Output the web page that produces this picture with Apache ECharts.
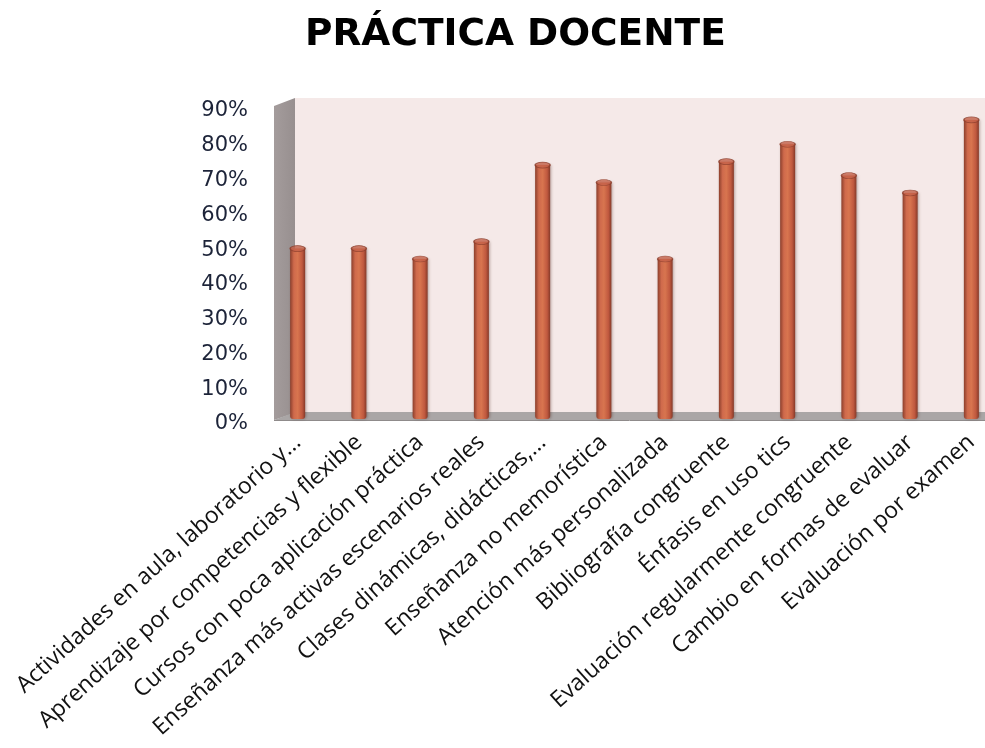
<!DOCTYPE html>
<html>
<head>
<meta charset="utf-8">
<script src="https://cdn.jsdelivr.net/npm/echarts@6/dist/echarts.min.js"></script>
<style>
  html, body { margin: 0; padding: 0; background: #fff; }
  #main { width: 985px; height: 748px; }
</style>
</head>
<body>
<div id="main"></div>
<script>
var categories = [
    'Actividades en aula, laboratorio y...',
    'Aprendizaje por competencias y flexible',
    'Cursos con poca aplicación práctica',
    'Enseñanza más activas escenarios reales',
    'Clases dinámicas, didácticas,...',
    'Enseñanza no memorística',
    'Atención más personalizada',
    'Bibliografía congruente',
    'Énfasis en uso tics',
    'Evaluación regularmente congruente',
    'Cambio en formas de evaluar',
    'Evaluación por examen'
];
var values = [49, 49, 46, 51, 73, 68, 46, 74, 79, 70, 65, 86];
var yTicks = [0, 10, 20, 30, 40, 50, 60, 70, 80, 90];

var myChart = echarts.init(document.getElementById('main'));

var barColor = new echarts.graphic.LinearGradient(0, 0, 1, 0, [
    { offset: 0, color: '#8c3f2c' },
    { offset: 0.25, color: '#cf6a4c' },
    { offset: 0.5, color: '#d8754f' },
    { offset: 0.8, color: '#c0593f' },
    { offset: 1, color: '#863a29' }
]);

var option = {
    backgroundColor: '#ffffff',
    animation: false,
    title: {
        text: 'PRÁCTICA DOCENTE',
        left: 300,
        top: 11,
        textStyle: {
            fontFamily: 'DejaVu Sans',
            fontWeight: 'bold',
            fontSize: 37.5,
            color: '#000'
        }
    },
    graphic: {
        elements: [
            {
                type: 'rect', z: -10, silent: true,
                shape: { x: 295, y: 98, width: 700, height: 315 },
                style: { fill: '#f5e9e8' }
            },
            {
                type: 'polygon', z: -9, silent: true,
                shape: { points: [[274, 106], [295, 98], [295, 413], [274, 420]] },
                style: {
                    fill: new echarts.graphic.LinearGradient(0, 0, 1, 0, [
                        { offset: 0, color: '#a49c9c' },
                        { offset: 1, color: '#978f8f' }
                    ])
                }
            },
            {
                type: 'polygon', z: -8, silent: true,
                shape: { points: [[274, 420], [295, 412], [995, 412], [985, 420]] },
                style: { fill: '#aaa6a6' }
            },
            {
                type: 'line', z: -7, silent: true,
                shape: { x1: 274, y1: 420.5, x2: 985, y2: 420.5 },
                style: { stroke: '#8f8b8b', lineWidth: 1 }
            }
        ]
    },
    grid: {
        left: 267,
        width: 735,
        top: 106,
        bottom: 329,
        outerBoundsMode: 'none'
    },
    xAxis: {
        type: 'category',
        data: categories,
        axisLine: { show: false },
        axisTick: { show: false },
        axisLabel: {
            interval: 0,
            rotate: 42,
            margin: 20,
            fontFamily: 'Open Sans',
            fontSize: 23,
            color: '#111'
        }
    },
    yAxis: {
        type: 'value',
        min: 0,
        max: 90,
        interval: 10,
        splitLine: { show: false },
        axisLine: { show: false },
        axisTick: { show: false },
        axisLabel: {
            margin: 19,
            verticalAlign: 'top',
            lineHeight: 10,
            fontFamily: 'DejaVu Sans',
            fontSize: 21,
            color: '#1c2338',
            formatter: function (v) {
                return yTicks.indexOf(v) >= 0 ? v + '%' : '';
            }
        }
    },
    series: [
        {
            type: 'bar',
            data: values,
            barWidth: 15,
            itemStyle: {
                color: barColor,
                borderRadius: [0, 0, 3, 3],
                shadowColor: 'rgba(60,20,10,0.35)',
                shadowBlur: 3,
                shadowOffsetX: 1
            },
            z: 3
        },
        {
            type: 'scatter',
            data: values,
            symbol: 'circle',
            symbolSize: [15, 6],
            itemStyle: {
                color: '#c4624a',
                borderColor: '#8a3d2c',
                borderWidth: 1
            },
            z: 4
        }
    ]
};

myChart.setOption(option);
</script>
</body>
</html>
